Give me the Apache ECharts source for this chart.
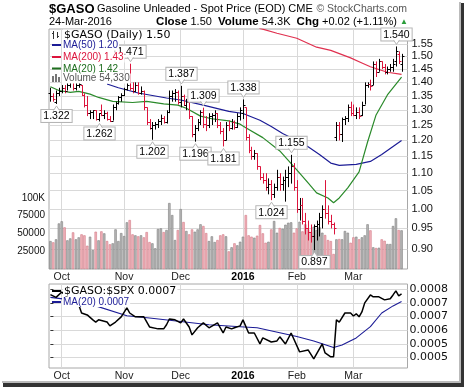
<!DOCTYPE html>
<html><head><meta charset="utf-8">
<script src="https://cdn.jsdelivr.net/npm/echarts@6/dist/echarts.min.js"></script>
<style>html,body{margin:0;padding:0;background:#fff}#c{width:464px;height:387px}</style>
</head><body><div id="c"></div>
<script>
// ---------- DATA ----------
const monthIdx = [4, 26, 46, 68, 87, 107];
const monthLbl = ['Oct', 'Nov', 'Dec', '2016', 'Feb', 'Mar'];

const opens = [1.36,1.35,1.33,1.36,1.37,1.38,1.37,1.39,1.40,1.38,1.39,1.39,1.355,1.32,1.29,1.295,1.30,1.27,1.30,1.285,
1.29,1.27,1.265,1.31,1.325,1.345,1.355,1.375,1.41,1.38,1.37,1.39,1.36,1.37,1.31,1.26,1.24,1.25,1.255,1.265,
1.275,1.26,1.295,1.35,1.36,1.365,1.33,1.35,1.32,1.33,1.28,1.22,1.24,1.26,1.295,1.255,1.25,1.28,1.285,1.29,
1.25,1.23,1.20,1.25,1.24,1.26,1.245,1.28,1.29,1.31,1.21,1.17,1.15,1.16,1.12,1.09,1.08,1.06,1.07,1.04,
1.06,1.09,1.07,1.08,1.09,1.10,1.12,1.06,1.00,1.01,0.97,0.95,0.94,0.93,0.955,0.96,0.98,1.00,0.99,0.97,
0.96,1.21,1.25,1.22,1.27,1.275,1.31,1.29,1.285,1.295,1.285,1.32,1.39,1.395,1.39,1.47,1.44,1.48,1.46,1.44,
1.45,1.46,1.48,1.51,1.47];
const highs = [1.38,1.36,1.37,1.38,1.39,1.39,1.40,1.41,1.40,1.40,1.40,1.39,1.36,1.35,1.30,1.30,1.30,1.29,1.32,1.30,
1.295,1.28,1.32,1.33,1.35,1.36,1.38,1.40,1.471,1.40,1.40,1.40,1.385,1.37,1.31,1.27,1.26,1.26,1.27,1.285,
1.28,1.30,1.37,1.37,1.375,1.37,1.387,1.355,1.34,1.33,1.28,1.25,1.27,1.30,1.309,1.28,1.29,1.29,1.30,1.29,
1.26,1.24,1.26,1.265,1.27,1.265,1.29,1.31,1.338,1.31,1.22,1.18,1.17,1.16,1.12,1.10,1.10,1.085,1.08,1.07,
1.11,1.10,1.09,1.11,1.12,1.155,1.13,1.08,1.03,1.03,0.99,0.97,0.96,0.96,0.97,0.99,1.01,1.08,1.01,0.985,
0.965,1.26,1.26,1.275,1.28,1.32,1.33,1.32,1.31,1.31,1.33,1.40,1.40,1.41,1.48,1.48,1.49,1.48,1.47,1.46,
1.47,1.49,1.54,1.52,1.51];
const lows = [1.33,1.33,1.322,1.35,1.36,1.36,1.37,1.38,1.37,1.37,1.38,1.35,1.31,1.28,1.27,1.27,1.265,1.262,1.28,1.27,
1.265,1.26,1.265,1.30,1.32,1.33,1.35,1.37,1.37,1.36,1.365,1.355,1.355,1.30,1.25,1.235,1.202,1.235,1.24,1.25,
1.255,1.255,1.29,1.33,1.33,1.32,1.31,1.315,1.30,1.27,1.21,1.196,1.23,1.25,1.24,1.23,1.24,1.25,1.26,1.24,
1.22,1.181,1.20,1.23,1.235,1.235,1.24,1.265,1.27,1.20,1.16,1.14,1.14,1.11,1.08,1.07,1.05,1.04,1.024,1.03,
1.05,1.05,1.05,1.02,1.06,1.07,1.05,0.99,0.97,0.96,0.935,0.92,0.915,0.897,0.92,0.93,0.95,0.975,0.96,0.95,
0.935,1.198,1.20,1.195,1.25,1.26,1.28,1.28,1.27,1.27,1.28,1.32,1.38,1.37,1.39,1.42,1.44,1.45,1.43,1.43,
1.44,1.44,1.46,1.47,1.44];
const closes = [1.35,1.34,1.36,1.37,1.38,1.37,1.39,1.40,1.38,1.39,1.395,1.355,1.32,1.29,1.295,1.30,1.27,1.29,1.285,1.29,
1.27,1.265,1.31,1.325,1.345,1.355,1.375,1.39,1.38,1.37,1.39,1.36,1.37,1.31,1.26,1.24,1.25,1.255,1.265,1.275,
1.26,1.295,1.35,1.36,1.365,1.33,1.35,1.32,1.33,1.28,1.22,1.24,1.26,1.295,1.255,1.25,1.28,1.285,1.29,1.25,
1.23,1.20,1.25,1.24,1.26,1.245,1.28,1.30,1.32,1.21,1.17,1.15,1.16,1.12,1.09,1.08,1.06,1.07,1.04,1.06,
1.09,1.07,1.08,1.09,1.10,1.12,1.06,1.00,1.01,0.97,0.95,0.94,0.93,0.955,0.96,0.98,1.00,0.99,0.97,0.96,
0.95,1.25,1.22,1.27,1.275,1.31,1.29,1.285,1.295,1.28,1.32,1.39,1.395,1.385,1.47,1.44,1.48,1.46,1.44,1.45,
1.46,1.47,1.52,1.4835,1.50];
const volumes = [39300,37500,41700,64000,67000,58500,40300,43000,51500,41700,
44500,48700,47300,32700,45400,26700,52400,40300,52900,50100,
39300,34700,36100,55700,39300,50500,46300,65600,68800,48700,
47300,45900,47300,44500,51900,37900,36100,29100,56200,57100,
51900,54800,92700,75800,40700,54800,84200,66000,53400,48700,
55700,52400,55700,62800,60400,50500,39300,45900,37900,40700,
47300,48700,45900,24800,30500,36100,33300,38300,
45400,75800,47300,45400,44000,46800,61800,50100,36900,38300,55700,
67400,51000,57600,56600,62200,65000,65600,51000,57100,66400,52900,62800,55700,51900,59400,54800,58500,51000,47700,40700,39300,21100,
41700,42100,41700,53400,51000,36900,44500,45400,41700,44500,
47300,62800,54300,30500,29500,29900,41700,39700,35100,35100,60400,71200,54800,54330];

const ma20 = [[0,1.384],[3,1.370],[7,1.363],[10,1.367],[14,1.357],[17,1.345],[22,1.331],[29,1.327],[34,1.331],[40,1.322],
[45,1.318],[48,1.307],[53,1.280],[57,1.271],[63,1.264],[67,1.253],[69,1.241],[75,1.209],[81,1.167],[87,1.110],
[91,1.072],[94,1.044],[98,1.030],[100,1.017],[102,1.030],[105,1.058],[109,1.104],[112,1.195],[115,1.284],[119,1.354],[124,1.42]];
const ma50 = [[20,1.394],[24,1.38],[31,1.361],[41,1.343],[46,1.336],[54,1.318],[63,1.296],[68,1.289],[74,1.266],[78,1.245],
[82,1.222],[87,1.20],[91,1.18],[95,1.156],[99,1.13],[102,1.123],[108,1.126],[113,1.135],[117,1.156],[124,1.20]];
const ma200 = [[72,1.64],[74,1.616],[80,1.595],[87,1.574],[94,1.537],[99,1.524],[106,1.494],[110,1.474],[113,1.459],[119,1.438],[124,1.43]];

const ratio = [[0,0.00078],[2,0.00077],[4,0.00079],[6,0.00077],[8,0.00076],[10,0.000743],[11,0.000713],[13,0.000706],[15,0.000688],[16,0.00068],
[17,0.000688],[20,0.00068],[21,0.000666],[23,0.00068],[25,0.000699],[27,0.000732],[28,0.000713],[30,0.000699],[33,0.000699],[35,0.000662],
[38,0.000655],[40,0.000655],[41,0.00067],[42,0.000691],[44,0.000688],[46,0.000677],[47,0.000691],[49,0.000662],[50,0.000633],[52,0.000659],
[54,0.000677],[56,0.000659],[59,0.000677],[61,0.00064],[62,0.000662],[64,0.000655],[65,0.000659],[67,0.000666],[68,0.000688],[70,0.00064],
[72,0.00064],[74,0.0006],[75,0.000622],[78,0.000607],[80,0.000611],[81,0.000626],[83,0.0006],[85,0.00064],[88,0.000571],[91,0.000578],
[93,0.000545],[96,0.0006],[97,0.000567],[99,0.000553],[100,0.000553],[101,0.000688],[102,0.00068],[104,0.000713],[106,0.000713],[107,0.000702],
[108,0.00071],[109,0.000699],[110,0.000717],[111,0.00075],[113,0.000779],[114,0.000772],[116,0.000772],[118,0.000761],[120,0.000765],[121,0.000779],
[122,0.000794],[123,0.000776],[124,0.000783]];
const ratioMa20 = [[0,0.00077],[8,0.00076],[16,0.000739],[27,0.000703],[35,0.000695],[46,0.000682],[56,0.00067],[67,0.000663],[73,0.000659],[81,0.000641],
[87,0.000627],[93,0.000611],[100,0.000587],[103,0.000596],[108,0.000622],[113,0.000663],[117,0.000713],[121,0.000739],[124,0.000755]];

const priceTicks = [0.90,0.95,1.00,1.05,1.10,1.15,1.20,1.25,1.30,1.35,1.40,1.45,1.50,1.55];
const volTicks = [25000,50000,75000,100000];
const volTickLbl = ['25000','50000','75000','100K'];
const ratioTicks = [0.00055,0.0006,0.00065,0.0007,0.00075,0.0008];
const ratioTickLbl = ['0.0005','0.0005','0.0006','0.0007','0.0007','0.0008'];

const hiLoIdx = [2,17,28,36,46,51,54,61,68,78,85,93,122];
const hiLoVal = [1.322,1.262,1.471,1.202,1.387,1.196,1.309,1.181,1.338,1.024,1.155,0.897,1.540];
const hiLoAbove = [0,0,1,0,1,0,1,0,1,0,1,0,1];

// ---------- CHART ----------
const F = 'Liberation Sans, Arial, sans-serif';
const FD = 'DejaVu Sans, Verdana, sans-serif';
const RED = '#dc143c', UP = '#000';
const dir = closes.map((c, i) => (i > 0 && c < closes[i - 1]) ? 1 : 0);
const nearest = (arr, v) => { let k = 0; arr.forEach((a, j) => { if (Math.abs(a - v) < Math.abs(arr[k] - v)) k = j; }); return k; };

const chart = echarts.init(document.getElementById('c'), null, {width: 464, height: 387});

function txt(x, y, text, size, color, opt) {
  return {type: 'text', x: x, y: y, z: 100, style: Object.assign({text: text, fill: color, fontSize: size, fontFamily: F,
    textAlign: 'left', textVerticalAlign: 'middle'}, opt || {})};
}
function rect(x, y, w, h, color) {
  return {type: 'rect', z: 100, shape: {x: x, y: y, width: w, height: h}, style: {fill: color}};
}
const WB = {backgroundColor: '#fff', padding: [0, 1]};

const xAxisCommon = (gi) => ({
  gridIndex: gi, type: 'value', min: -0.5, max: 126.1,
  axisLine: {show: false},
  axisTick: {show: false, customValues: monthIdx},
  splitLine: {show: true, lineStyle: {color: '#d9d9d9', width: 1}},
  axisLabel: {customValues: monthIdx, margin: 3, fontSize: 10.5, fontFamily: F, color: '#222',
    formatter: v => { const l = monthLbl[nearest(monthIdx, v)]; return l === '2016' ? '{b|2016}' : l; },
    rich: {b: {fontWeight: 'bold', fontSize: 10.5, fontFamily: F, color: '#000'}}}
});

const option = {
  animation: false,
  backgroundColor: '#fff',
  grid: [
    {left: 49, top: 29, width: 358.5, height: 240, show: true, borderColor: '#a8a8a8', borderWidth: 1},
    {left: 49, top: 284, width: 358.5, height: 84, show: true, borderColor: '#a8a8a8', borderWidth: 1}
  ],
  xAxis: [xAxisCommon(0), xAxisCommon(1)],
  yAxis: [
    {gridIndex: 0, type: 'log', min: 0.853, max: 1.613, position: 'right',
      axisLine: {show: false}, axisTick: {show: false, customValues: priceTicks},
      splitLine: {show: true, lineStyle: {color: '#d9d9d9'}},
      axisLabel: {customValues: priceTicks, margin: 4, fontSize: 11, fontFamily: F, color: '#111',
        formatter: v => priceTicks[nearest(priceTicks, v)].toFixed(2)}},
    {gridIndex: 0, type: 'value', min: 0, max: 337079, position: 'left',
      axisLine: {show: false}, axisTick: {show: false}, splitLine: {show: false},
      axisLabel: {customValues: volTicks, margin: 4, fontSize: 10, fontFamily: F, color: '#111',
        formatter: v => volTickLbl[nearest(volTicks, v)]}},
    {gridIndex: 1, type: 'value', min: 0.000512, max: 0.000819, position: 'right',
      axisLine: {show: false},
      axisTick: {show: true, inside: false, length: 3, customValues: ratioTicks, lineStyle: {color: '#333'}},
      splitLine: {show: true, lineStyle: {color: '#d9d9d9'}},
      axisLabel: {customValues: ratioTicks, margin: 2, fontSize: 11, fontFamily: FD, color: '#111',
        formatter: v => ratioTickLbl[nearest(ratioTicks, v)]}}
  ],
  series: [
    {type: 'bar', xAxisIndex: 0, yAxisIndex: 1, barWidth: 2.4, z: 1, silent: true,
      data: volumes.map((v, i) => ({value: [i, v], itemStyle: dir[i]
        ? {color: '#f1b3bb', borderColor: '#d27a87', borderWidth: 0.6}
        : {color: '#b7b7b7', borderColor: '#808080', borderWidth: 0.6}}))},
    {type: 'line', xAxisIndex: 0, yAxisIndex: 0, data: ma200, symbol: 'none', z: 2, lineStyle: {color: '#e0304f', width: 1.2}},
    {type: 'line', xAxisIndex: 0, yAxisIndex: 0, data: ma50, symbol: 'none', z: 2, lineStyle: {color: '#1c1c96', width: 1.2}},
    {type: 'line', xAxisIndex: 0, yAxisIndex: 0, data: ma20, symbol: 'none', z: 2, lineStyle: {color: '#2a8a2a', width: 1.2}},
    {type: 'custom', xAxisIndex: 0, yAxisIndex: 0, z: 3, silent: true,
      data: opens.map((o, i) => [i, o, highs[i], lows[i], closes[i], dir[i]]),
      encode: {x: 0, y: [1, 2, 3, 4]},
      renderItem: (params, api) => {
        const i = api.value(0);
        const pH = api.coord([i, api.value(2)]), pL = api.coord([i, api.value(3)]);
        const pO = api.coord([i, api.value(1)]), pC = api.coord([i, api.value(4)]);
        const col = api.value(5) ? RED : UP;
        const x = Math.round(pH[0]) + 0.5;
        const st = {stroke: col, lineWidth: 1};
        return {type: 'group', children: [
          {type: 'line', shape: {x1: x, y1: pH[1], x2: x, y2: pL[1]}, style: st},
          {type: 'line', shape: {x1: x - 2, y1: Math.round(pO[1]) + 0.5, x2: x, y2: Math.round(pO[1]) + 0.5}, style: st},
          {type: 'line', shape: {x1: x, y1: Math.round(pC[1]) + 0.5, x2: x + 2, y2: Math.round(pC[1]) + 0.5}, style: st}
        ]};
      }},
    {type: 'custom', xAxisIndex: 0, yAxisIndex: 0, z: 5, silent: true,
      data: hiLoIdx.map((ix, k) => [ix, hiLoVal[k], hiLoAbove[k]]),
      encode: {x: 0, y: 1},
      renderItem: (params, api) => {
        const v = api.value(1), up = api.value(2);
        const p = api.coord([api.value(0), v]);
        const x = Math.round(p[0]) + 0.5, y = p[1];
        const yb = up ? y - 6 : y + 6;
        const tip = up ? [[x - 3, yb - 0.5], [x, y - 2], [x + 3, yb - 0.5]] : [[x - 3, yb + 0.5], [x, y + 2], [x + 3, yb + 0.5]];
        return {type: 'group', children: [
          {type: 'text', style: {text: v.toFixed(3), x: x, y: yb, align: 'center', verticalAlign: up ? 'bottom' : 'top',
            fontSize: 10.5, fontFamily: F, fill: '#000', backgroundColor: '#fff', borderColor: '#b5b5b5', borderWidth: 1, padding: [1, 2, 0, 2]}},
          {type: 'polyline', shape: {points: tip}, style: {fill: '#fff', stroke: '#b5b5b5', lineWidth: 1}}
        ]};
      }},
    {type: 'line', xAxisIndex: 1, yAxisIndex: 2, data: ratioMa20, symbol: 'none', z: 2, lineStyle: {color: '#1c1c96', width: 1.1}},
    {type: 'line', xAxisIndex: 1, yAxisIndex: 2, data: ratio, symbol: 'none', z: 3, lineStyle: {color: '#000', width: 1.5}}
  ],
  graphic: [
    txt(49, 9, '$GASO', 13, '#000', {fontWeight: 'bold'}),
    txt(97, 9, 'Gasoline Unleaded - Spot Price (EOD) CME', 11, '#000'),
    txt(407, 9, '\u00A9 StockCharts.com', 10.5, '#555', {textAlign: 'right'}),
    txt(49, 22, '24-Mar-2016', 11, '#000'),
    txt(397, 22, '{b|Close} 1.50  {b|Volume} 54.3K  {b|Chg} +0.02 (+1.11%)', 11, '#000',
      {textAlign: 'right', rich: {b: {fontWeight: 'bold', fontSize: 11.5, fontFamily: F, fill: '#000'}}}),
    txt(400, 21.5, '\u25B2', 8, '#2a9d3a'),
    // main legend
    {type: 'line', z: 100, shape: {x1: 53.5, y1: 31, x2: 53.5, y2: 39}, style: {stroke: '#333', lineWidth: 1}},
    {type: 'line', z: 100, shape: {x1: 57.5, y1: 32, x2: 57.5, y2: 38}, style: {stroke: '#333', lineWidth: 1}},
    {type: 'line', z: 100, shape: {x1: 52, y1: 33.5, x2: 53.5, y2: 33.5}, style: {stroke: '#333', lineWidth: 1}},
    {type: 'line', z: 100, shape: {x1: 57.5, y1: 36.5, x2: 59, y2: 36.5}, style: {stroke: '#333', lineWidth: 1}},
    txt(63, 35, '$GASO (Daily) 1.50', 11, '#000', Object.assign({fontFamily: FD}, WB)),
    rect(52, 44, 9, 2, '#1c1c96'), txt(62, 45.5, 'MA(50) 1.20', 10, '#1c1c96', WB),
    rect(52, 56, 9, 2, '#dc143c'), txt(62, 57.5, 'MA(200) 1.43', 10, '#dc143c', WB),
    rect(52, 67.5, 9, 2, '#1e6e1e'), txt(62, 69, 'MA(20) 1.42', 10, '#1e6e1e', WB),
    rect(52, 76, 2, 6, '#777'), rect(55, 74, 2, 8, '#777'), rect(58, 77, 2, 5, '#777'),
    txt(62, 78.5, 'Volume 54,330', 10, '#555', WB),
    // lower legend
    rect(52, 290, 9, 2, '#000'), txt(63, 291, '$GASO:$SPX 0.0007', 11, '#000', Object.assign({fontFamily: FD}, WB)),
    rect(52, 301, 9, 2, '#1c1c96'), txt(62, 302, 'MA(20) 0.0007', 10, '#1c1c96', WB),
    // frame shadow
    rect(459, 2, 2, 383, '#bbb'), rect(461, 3, 3, 384, '#333'),
    rect(2, 381, 459, 2, '#bbb'), rect(3, 383, 461, 4, '#333')
  ]
};
chart.setOption(option);
</script></body></html>
